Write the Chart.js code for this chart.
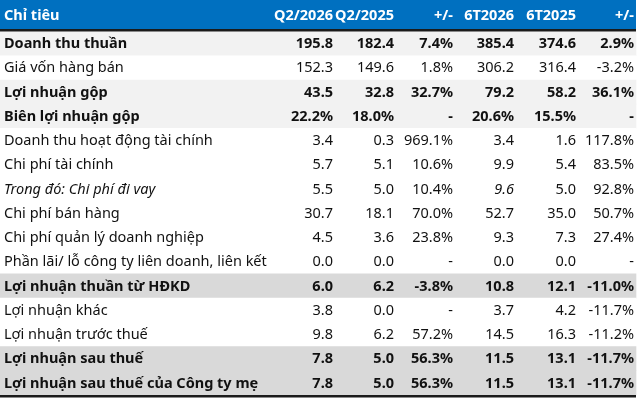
<!DOCTYPE html>
<html><head><meta charset="utf-8">
<script src="https://cdn.jsdelivr.net/npm/chart.js@4"></script>
<style>html,body{margin:0;padding:0;background:#fff}#w{width:640px;height:402px}</style>
</head><body><div id="w"><canvas id="c"></canvas></div>
<script>
const headers = ["Chỉ tiêu","Q2/2026","Q2/2025","+/-","6T2026","6T2025","+/-"];
const labels = ["Doanh thu thuần","Giá vốn hàng bán","Lợi nhuận gộp","Biên lợi nhuận gộp","Doanh thu hoạt động tài chính","Chi phí tài chính","Trong đó: Chi phí đi vay","Chi phí bán hàng","Chi phí quản lý doanh nghiệp","Phần lãi/ lỗ công ty liên doanh, liên kết","Lợi nhuận thuần từ HĐKD","Lợi nhuận khác","Lợi nhuận trước thuế","Lợi nhuận sau thuế","Lợi nhuận sau thuế của Công ty mẹ"];
const q2_2026 = [195.8,152.3,43.5,22.2,3.4,5.7,5.5,30.7,4.5,0.0,6.0,3.8,9.8,7.8,7.8];
const q2_2025 = [182.4,149.6,32.8,18.0,0.3,5.1,5.0,18.1,3.6,0.0,6.2,0.0,6.2,5.0,5.0];
const chgQ    = [7.4,1.8,32.7,null,969.1,10.6,10.4,70.0,23.8,null,-3.8,null,57.2,56.3,56.3];
const h1_2026 = [385.4,306.2,79.2,20.6,3.4,9.9,9.6,52.7,9.3,0.0,10.8,3.7,14.5,11.5,11.5];
const h1_2025 = [374.6,316.4,58.2,15.5,1.6,5.4,5.0,35.0,7.3,0.0,12.1,4.2,16.3,13.1,13.1];
const chgH    = [2.9,-3.2,36.1,null,117.8,83.5,92.8,50.7,27.4,null,-11.0,-11.7,-11.2,-11.7,-11.7];
const rowBold  = [1,0,1,1,0,0,0,0,0,0,1,0,0,1,1];
const rowShade = [1,0,1,1,0,0,0,0,0,0,2,0,0,2,2];
const pctRows  = [3];
const italicCells = [[6,0],[6,4]];

const shadeColors = ["#ffffff","#f2f2f2","#d9d9d9"];
const colRight = [333,394,453,514,576,634];
const tableRight = 636;
const FONT = "'Noto Sans', sans-serif";

const cols = [q2_2026,q2_2025,chgQ,h1_2026,h1_2025,chgH];
const colIsChg = [false,false,true,false,false,true];
function fmt(ci, ri){
  const v = cols[ci][ri];
  if (v === null || v === undefined) return "-";
  if (colIsChg[ci] || pctRows.includes(ri)) return v.toFixed(1) + "%";
  return v.toFixed(1);
}
function isItalic(ri, ci){ return italicCells.some(c => c[0]===ri && c[1]===ci); }

const tablePlugin = {
  id: 'tableText',
  afterDatasetsDraw(chart){
    const ctx = chart.ctx, xs = chart.scales.x, ys = chart.scales.y, ca = chart.chartArea;
    ctx.save();
    // header
    const x0 = xs.getPixelForValue(0), x1 = xs.getPixelForValue(tableRight);
    ctx.fillStyle = "#0070c0";
    ctx.fillRect(x0, 0, x1-x0, ca.top-2.5);
    ctx.fillStyle = "#1b1b1b";
    ctx.fillRect(x0, ca.top-2.5, x1-x0, 2.5);
    const hy = (ca.top-2.5)/2 + 1;
    ctx.textBaseline = "middle";
    ctx.fillStyle = "#ffffff";
    ctx.font = "bold 14.5px " + FONT;
    ctx.textAlign = "left";
    ctx.fillText(headers[0], xs.getPixelForValue(4), hy);
    ctx.textAlign = "right";
    for (let c=0;c<colRight.length;c++) ctx.fillText(headers[c+1], xs.getPixelForValue(colRight[c]), hy);
    // bottom line
    const bottom = ys.getPixelForValue(labels.length-1) + (ys.getPixelForValue(1)-ys.getPixelForValue(0))/2;
    ctx.fillStyle = "#1b1b1b";
    ctx.fillRect(x0, bottom, x1-x0, 2.5);
    // rows
    ctx.fillStyle = "#111111";
    for (let r=0;r<labels.length;r++){
      const y = ys.getPixelForValue(r) + 0.5;
      const w = rowBold[r] ? "bold " : "";
      ctx.textAlign = "left";
      ctx.font = (isItalic(r,0)?"italic ":"") + w + "14.5px " + FONT;
      ctx.fillText(labels[r], xs.getPixelForValue(4), y);
      ctx.textAlign = "right";
      for (let c=0;c<cols.length;c++){
        ctx.font = (isItalic(r,c+1)?"italic ":"") + w + "14.5px " + FONT;
        ctx.fillText(fmt(c,r), xs.getPixelForValue(colRight[c]), y);
      }
    }
    ctx.restore();
  }
};

new Chart(document.getElementById('c'), {
  type: 'bar',
  data: {
    labels: labels,
    datasets: [{
      data: labels.map(() => [0, tableRight]),
      backgroundColor: rowShade.map(s => shadeColors[s]),
      barPercentage: 1, categoryPercentage: 1, borderWidth: 0
    }]
  },
  options: {
    indexAxis: 'y', responsive: true, maintainAspectRatio: false, animation: false,
    layout: { padding: { top: 31.5, bottom: 7, left: 0, right: 0 } },
    plugins: { legend: { display: false }, tooltip: { enabled: false } },
    scales: {
      x: { type: 'linear', min: 0, max: 640, display: false },
      y: { type: 'category', display: false, offset: true }
    }
  },
  plugins: [tablePlugin]
});
</script></body></html>
